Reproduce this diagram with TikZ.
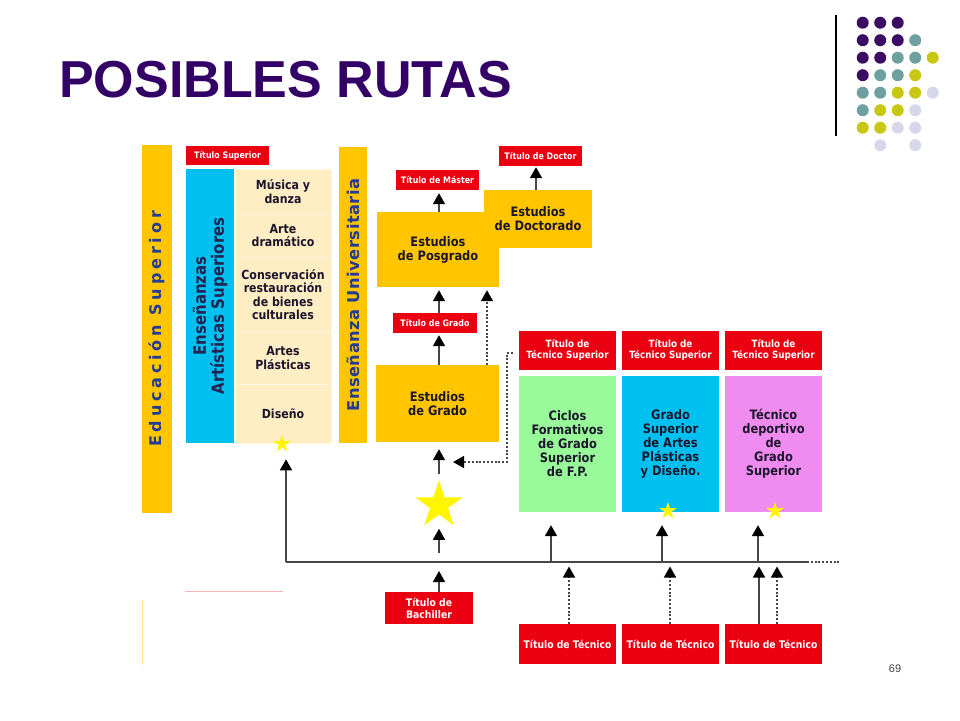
\documentclass[tikz,border=0pt]{standalone}
\usepackage{fontspec}
\newfontfamily\titfont{Liberation Sans}
\newfontfamily\cajafont{DejaVu Sans}[FakeStretch=0.88]
\newfontfamily\barrafont{DejaVu Sans}[LetterSpace=3]
\newfontfamily\espfont{DejaVu Sans}[LetterSpace=24]
\usetikzlibrary{positioning, shapes.geometric, arrows.meta}

\definecolor{ruta}{RGB}{51,0,102}
\definecolor{amarillo}{RGB}{255,198,0}
\definecolor{rojo}{RGB}{235,0,18}
\definecolor{celeste}{RGB}{0,192,240}
\definecolor{crema}{RGB}{255,238,195}
\definecolor{verde}{RGB}{153,250,153}
\definecolor{rosa}{RGB}{240,140,240}
\definecolor{amarilloE}{RGB}{255,245,0}
\definecolor{azultxt}{RGB}{35,60,150}
\definecolor{marino}{RGB}{35,35,80}
\definecolor{tinta}{RGB}{28,22,45}
\definecolor{linea}{RGB}{70,70,70}
\definecolor{dotP}{RGB}{60,12,100}
\definecolor{dotT}{RGB}{110,160,160}
\definecolor{dotY}{RGB}{200,200,20}
\definecolor{dotL}{RGB}{215,215,235}

\begin{document}
\begin{tikzpicture}[x=1pt, y=-1pt,
  caja/.style={inner sep=0, align=center, text=tinta, font=\cajafont\bfseries\fontsize{13}{14}\selectfont},
  rojobox/.style={fill=rojo, inner sep=0, align=center, text=white, font=\cajafont\bfseries\fontsize{9}{10}\selectfont},
  celda/.style={fill=crema, draw=white!45!crema, line width=0.6, inner sep=0, align=center, text=tinta, minimum width=96, font=\cajafont\bfseries\fontsize{12.5}{13.6}\selectfont},
  barra/.style={fill=amarillo, rotate=90, inner sep=0, text=azultxt},
  estrella/.style={star, star points=5, star point ratio=2.618, fill=amarilloE, inner sep=0},
  flecha/.style={draw=linea, line width=1.6, -{Triangle[width=12pt,length=11pt,color=black]}},
  punteada/.style={flecha, dash pattern=on 2pt off 1.8pt},
  punto/.style={circle, inner sep=0, minimum size=12}]
\useasboundingbox (0,0) rectangle (960,720);

% titulo y adorno
\node[anchor=base west, inner sep=0, text=ruta, font=\titfont\bfseries\fontsize{52}{52}\selectfont] (titulo) at (59,97) {POSIBLES RUTAS};
\draw[line width=1.2] (836,15) -- (836,136);
\foreach \c/\r in {0/0,1/0,2/0,0/1,1/1,2/1,0/2,1/2,0/3}
  \node[punto, fill=dotP] (pd\c\r) at ({862.7+17.5*\c},{22.7+17.5*\r}) {};
\foreach \c/\r in {3/1,2/2,3/2,1/3,2/3,0/4,1/4,0/5}
  \node[punto, fill=dotT] (pd\c\r) at ({862.7+17.5*\c},{22.7+17.5*\r}) {};
\foreach \c/\r in {4/2,3/3,2/4,3/4,1/5,2/5,0/6,1/6}
  \node[punto, fill=dotY] (pd\c\r) at ({862.7+17.5*\c},{22.7+17.5*\r}) {};
\foreach \c/\r in {4/4,3/5,2/6,3/6,1/7,3/7}
  \node[punto, fill=dotL] (pd\c\r) at ({862.7+17.5*\c},{22.7+17.5*\r}) {};

% educacion superior
\node[barra, minimum width=368, minimum height=30, font=\espfont\bfseries\fontsize{16}{16}\selectfont] (eduSup) at (157,329) {Educación Superior};
\node[rojobox, minimum width=83, minimum height=19] (titSup) at (227.5,155.5) {Título Superior};
\node[fill=celeste, rotate=90, minimum width=274, minimum height=48, inner sep=0, align=center, text=marino, font=\cajafont\bfseries\fontsize{17}{18}\selectfont] (artSup) at (210,306) {Enseñanzas\\Artísticas Superiores};
\node[celda, minimum height=45] (musica) at (283,191.5) {Música y\\danza};
\node[celda, minimum height=43] (arte) at (283,235.5) {Arte\\dramático};
\node[celda, minimum height=75] (conserv) at (283,294.5) {Conservación\\restauración\\de bienes\\culturales};
\node[celda, minimum height=52] (plast) at (283,358) {Artes\\Plásticas};
\node[celda, minimum height=59] (diseno) at (283,413.5) {Diseño};
\node[barra, minimum width=296, minimum height=28, font=\barrafont\bfseries\fontsize{16.3}{16}\selectfont] (ensUni) at (353,295) {Enseñanza Universitaria};

% universidad
\node[caja, fill=amarillo, minimum width=122, minimum height=75] (posgrado) at (438,249.5) {Estudios\\de Posgrado};
\node[caja, fill=amarillo, minimum width=108, minimum height=58] (doctorado) at (538,219) {Estudios\\de Doctorado};
\node[rojobox, minimum width=83, minimum height=20] (titMaster) at (437.5,180) {Título de Máster};
\node[rojobox, minimum width=83, minimum height=20] (titDoctor) at (540.5,156) {Título de Doctor};
\node[rojobox, minimum width=84, minimum height=20] (titGrado) at (435,323) {Título de Grado};
\node[caja, fill=amarillo, minimum width=123, minimum height=77] (grado) at (437.5,403.5) {Estudios\\de Grado};
\node[estrella, minimum size=50] (bigStar) at (439,505) {};

% grado superior
\node[caja, fill=verde, minimum width=97, minimum height=136] (ciclos) at (567.5,444) {Ciclos\\Formativos\\de Grado\\Superior\\de F.P.};
\node[caja, fill=celeste, minimum width=97, minimum height=136] (artes) at (670.5,444) {Grado\\Superior\\de Artes\\Plásticas\\y Diseño.};
\node[caja, fill=rosa, minimum width=97, minimum height=136] (deporte) at (773.5,444) {Técnico\\deportivo\\de\\Grado\\Superior};
\foreach \n/\x in {tsCiclos/567.5, tsArtes/670.5, tsDeporte/773.5}
  \node[rojobox, minimum width=97, minimum height=39, font=\cajafont\bfseries\fontsize{10}{11}\selectfont] (\n) at (\x,350.5) {Título de\\Técnico Superior};
\foreach \n/\x in {tecCiclos/567.5, tecArtes/670.5, tecDeporte/773.5}
  \node[rojobox, minimum width=97, minimum height=40, font=\cajafont\bfseries\fontsize{10.5}{11}\selectfont] (\n) at (\x,644) {Título de Técnico};
\node[rojobox, minimum width=88, minimum height=32, font=\cajafont\bfseries\fontsize{10.5}{12}\selectfont] (titBach) at (429,608) {Título de\\Bachiller};

% linea comun
\coordinate (lineL) at (286,562);
\coordinate (lineR) at (807,562);
\coordinate (lineEnd) at (840,562);
\draw[draw=linea, line width=1.8] (lineR) -- (lineL);
\draw[draw=linea, line width=1.8, dash pattern=on 2pt off 1.8pt] (lineR) -- (lineEnd);
\draw[flecha, shorten >=16] (lineL) -- (lineL |- diseno.south);

% flechas
\coordinate (s1) at (439,553);
\draw[flecha, shorten >=14] (s1) -- (bigStar.south);
\draw[flecha, shorten <=5, shorten >=7] (bigStar.north) -- (bigStar |- grado.south);
\draw[flecha, shorten >=2] (bigStar |- grado.north) -- (bigStar |- titGrado.south);
\draw[flecha, shorten >=3] (bigStar |- titGrado.north) -- (bigStar |- posgrado.south);
\draw[flecha, shorten >=3] (bigStar |- posgrado.north) -- (bigStar |- titMaster.south);
\coordinate (dX) at (536,190);
\draw[flecha, shorten >=1] (dX) -- (dX |- titDoctor.south);
\coordinate (gD) at (487,365);
\draw[punteada, shorten >=3] (gD) -- (gD |- posgrado.south);
\coordinate (dS) at (513,353);
\coordinate (dE) at (453,462);
\draw[punteada] (dS) -- ++(-6,0) |- (dE);
\draw[flecha, shorten >=9] (bigStar |- titBach.north) -- (bigStar |- lineL);
\foreach \x/\b in {551/ciclos, 662/artes, 758/deporte}{
  \coordinate (f\b) at (\x,562);
  \draw[flecha, shorten >=13] (f\b) -- (f\b |- \b.south);
}
\foreach \x/\s in {569/punteada, 670/punteada, 759/flecha, 777/punteada}{
  \coordinate (g\x) at (\x,624);
  \draw[\s, shorten >=4.5] (g\x) -- (g\x |- lineL);
}

% estrellas pequenas
\node[estrella, minimum size=18] (stDis) at (282,444) {};
\node[estrella, minimum size=18] (stArt) at (668,511) {};
\node[estrella, minimum size=18] (stDep) at (775,511) {};

% restos
\draw[draw=rojo!30, line width=0.8] (185,591) -- (283,591);
\draw[draw=amarillo!45, line width=0.8] (142,600) -- (142,665);
\node[text=black!75, font=\titfont\fontsize{11}{11}\selectfont] (pagina) at (895,669) {69};
\end{tikzpicture}
\end{document}
